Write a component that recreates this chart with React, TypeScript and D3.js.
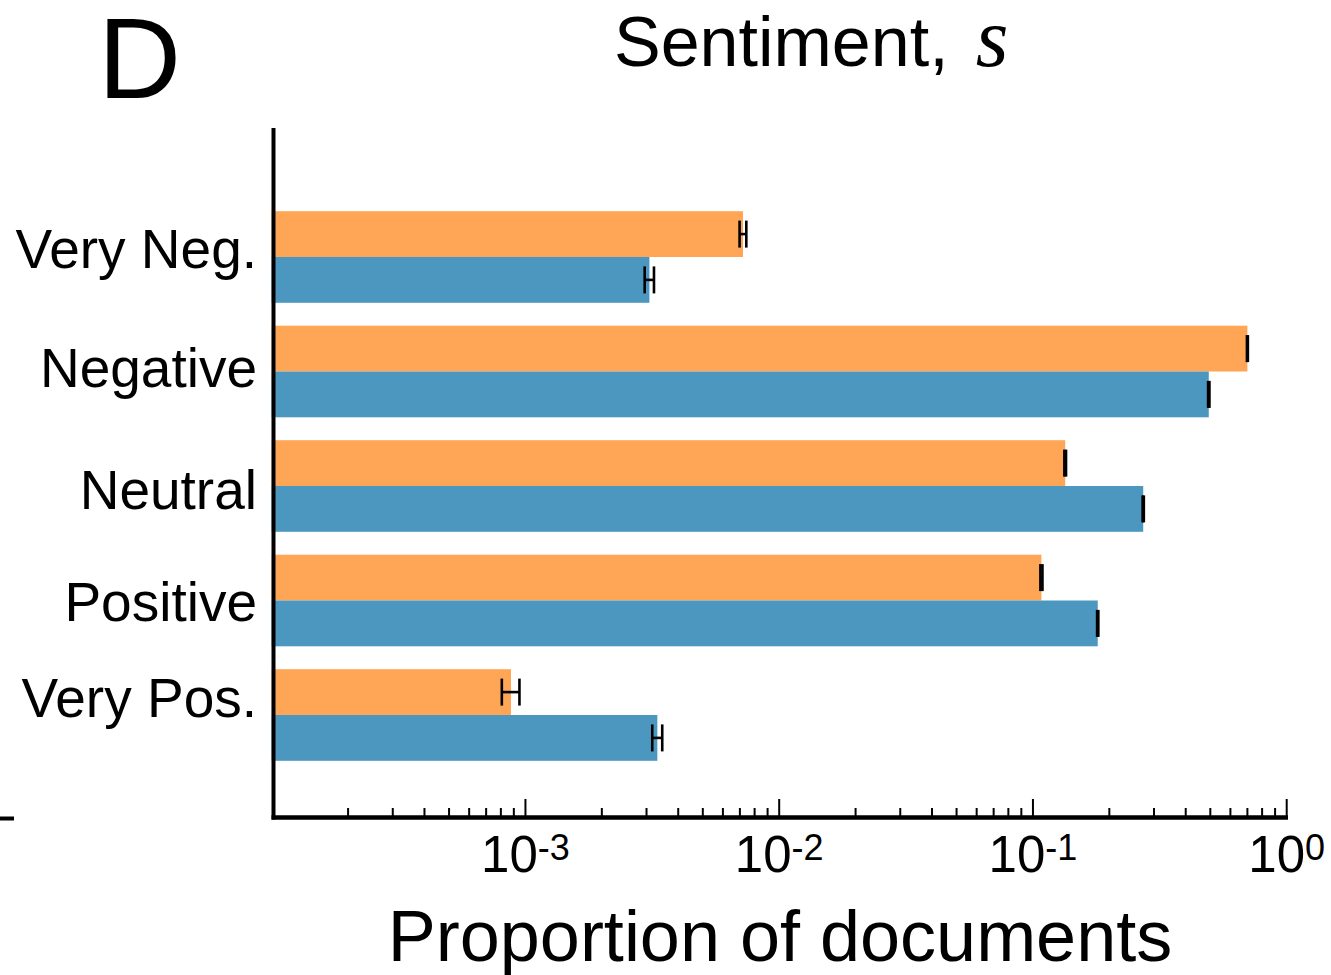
import React from "react";
import * as d3 from "d3";

const categories = ["Very Neg.", "Negative", "Neutral", "Positive", "Very Pos."];
const orangeValues = [0.0072, 0.70, 0.134, 0.108, 0.000877];
const orangeErrors = [0.00022, 0.003, 0.001, 0.001, 0.00007];
const blueValues = [0.00308, 0.493, 0.272, 0.180, 0.00331];
const blueErrors = [0.00013, 0.003, 0.0015, 0.001, 0.00015];
const majorTicks = [1e-3, 1e-2, 1e-1, 1e0];
const majorTickExp = ["-3", "-2", "-1", "0"];

// layout: vertical offset of each label's baseline from its category centre
const labelBaselineOffsets = [11, 15, 23, 20, 2];

const W = 1331;
const H = 975;
const ORANGE = "#FFA556";
const BLUE = "#4C97BF";
const SANS = "'Liberation Sans', Arial, Helvetica, sans-serif";

export default function App() {
  const x = d3.scaleLog().domain([1e-4, 1]).range([271.7, 1286.7]);
  const y = d3
    .scaleBand<string>()
    .domain(categories)
    .range([199.75, 772.25])
    .paddingInner(0.2)
    .paddingOuter(0.1);
  const bw = y.bandwidth();
  const half = bw / 2;
  const axisY = 817.5;
  const axisX = 273.5;

  const minorTicks: number[] = [];
  for (let e = -4; e < 0; e++) {
    for (let m = 2; m <= 9; m++) minorTicks.push(m * Math.pow(10, e));
  }

  const series = [
    { vals: orangeValues, errs: orangeErrors, color: ORANGE, off: 0 },
    { vals: blueValues, errs: blueErrors, color: BLUE, off: half },
  ];

  return (
    <div style={{ position: "absolute", left: 0, top: 0 }}>
      <svg width={W} height={H} xmlns="http://www.w3.org/2000/svg">
        <rect width={W} height={H} fill="#fff" />
        {/* panel letter */}
        <text x={98} y={98} fontFamily={SANS} fontSize={115} fill="#000">
          D
        </text>
        {/* title */}
        <text x={614} y={66} fontFamily={SANS} fontSize={70} fill="#000">
          Sentiment,
          <tspan
            dx={27}
            fontFamily="'Liberation Serif', 'DejaVu Serif', serif"
            fontStyle="italic"
            fontSize={84}
          >
            s
          </tspan>
        </text>
        {/* bars */}
        {series.map((s, si) =>
          categories.map((c, i) => {
            const top = (y(c) as number) + s.off;
            const x0 = x(1e-4);
            const x1 = x(s.vals[i]);
            return (
              <rect
                key={`b${si}-${i}`}
                x={x0}
                y={top}
                width={x1 - x0}
                height={half}
                fill={s.color}
              />
            );
          })
        )}
        {/* error bars */}
        {series.map((s, si) =>
          categories.map((c, i) => {
            const cy = (y(c) as number) + s.off + half / 2;
            const lo = x(s.vals[i] - s.errs[i]);
            const hi = x(s.vals[i] + s.errs[i]);
            return (
              <g key={`e${si}-${i}`} stroke="#000" strokeWidth={2.6}>
                <line x1={lo} x2={hi} y1={cy} y2={cy} />
                <line x1={lo} x2={lo} y1={cy - 13.5} y2={cy + 13.5} />
                <line x1={hi} x2={hi} y1={cy - 13.5} y2={cy + 13.5} />
              </g>
            );
          })
        )}
        {/* x ticks */}
        {minorTicks.map((t, i) => (
          <line
            key={`mt${i}`}
            x1={x(t)}
            x2={x(t)}
            y1={axisY}
            y2={axisY - 9.5}
            stroke="#000"
            strokeWidth={2}
          />
        ))}
        {majorTicks.map((t, i) => (
          <line
            key={`Mt${i}`}
            x1={x(t)}
            x2={x(t)}
            y1={axisY}
            y2={axisY - 18.5}
            stroke="#000"
            strokeWidth={2}
          />
        ))}
        {majorTicks.map((t, i) => (
          <text
            key={`tl${i}`}
            x={x(t)}
            y={872}
            textAnchor="middle"
            fontFamily={SANS}
            fontSize={51}
            fill="#000"
          >
            10
            <tspan fontSize={36} dy={-12}>
              {majorTickExp[i]}
            </tspan>
          </text>
        ))}
        {/* spines */}
        <line x1={axisX} x2={axisX} y1={128} y2={axisY + 2} stroke="#000" strokeWidth={4} />
        <line x1={axisX - 2} x2={1288} y1={axisY} y2={axisY} stroke="#000" strokeWidth={4.5} />
        {/* stray dash at left */}
        <line x1={0} x2={14} y1={818.5} y2={818.5} stroke="#000" strokeWidth={4} />
        {/* y labels */}
        {categories.map((c, i) => {
          const cy = (y(c) as number) + half;
          return (
            <text
              key={`yl${i}`}
              x={257}
              y={cy + labelBaselineOffsets[i]}
              textAnchor="end"
              fontFamily={SANS}
              fontSize={55}
              fill="#000"
            >
              {c}
            </text>
          );
        })}
        {/* x axis label */}
        <text
          x={780}
          y={961}
          textAnchor="middle"
          fontFamily={SANS}
          fontSize={72}
          fill="#000"
        >
          Proportion of documents
        </text>
      </svg>
    </div>
  );
}
